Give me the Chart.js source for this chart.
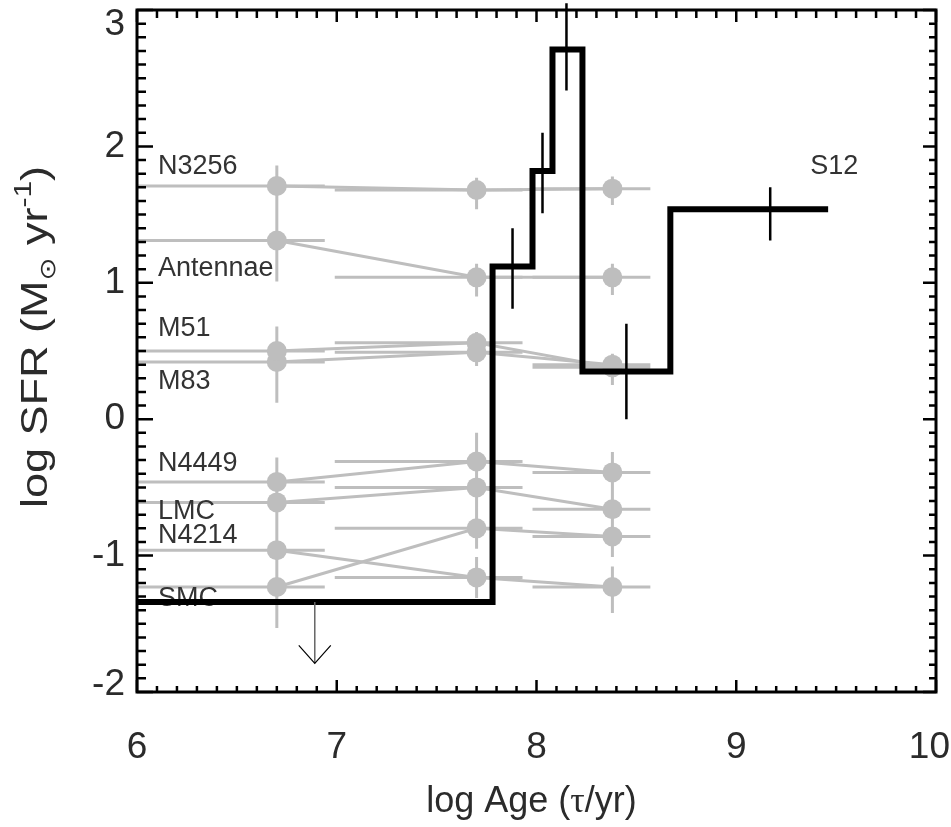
<!DOCTYPE html>
<html>
<head>
<meta charset="utf-8">
<script src="https://cdn.jsdelivr.net/npm/chart.js@4.4.0/dist/chart.umd.min.js"></script>
<style>
html,body{margin:0;padding:0;background:#fff;}
#wrap{width:951px;height:827px;position:relative;}
</style>
</head>
<body>
<div id="wrap"><canvas id="c"></canvas></div>
<script>
// ---------- DATA ----------
const ageBins  = [6.7, 7.7, 8.38];          // log age of the comparison points
const ageLow   = [6.0, 6.99, 7.98];         // horizontal error-bar extent (low)
const ageHigh  = [6.94, 7.93, 8.57];        // horizontal error-bar extent (high)

const galaxyNames = ['N3256','Antennae','M51','M83','N4449','LMC','N4214','SMC'];
const sfrN3256    = [1.71, 1.68, 1.69];
const sfrAntennae = [1.31, 1.04, 1.04];
const sfrM51      = [0.50, 0.56, 0.38];
const sfrM83      = [0.42, 0.49, 0.40];
const sfrN4449    = [-0.46, -0.31, -0.39];
const sfrLMC      = [-0.61, -0.50, -0.66];
const sfrN4214    = [-0.96, -1.16, -1.23];
const sfrSMC      = [-1.23, -0.80, -0.86];

const errUpN3256 = [0.15,0.09,0.09],  errDnN3256 = [0.30,0.14,0.12];
const errUpAnt   = [0.15,0.10,0.10],  errDnAnt   = [0.30,0.14,0.13];
const errUpM51   = [0.18,0.08,0.08],  errDnM51   = [0.30,0.10,0.12];
const errUpM83   = [0.18,0.08,0.08],  errDnM83   = [0.30,0.10,0.15];
const errUpN4449 = [0.18,0.21,0.15],  errDnN4449 = [0.30,0.15,0.15];
const errUpLMC   = [0.18,0.15,0.15],  errDnLMC   = [0.30,0.15,0.15];
const errUpN4214 = [0.18,0.15,0.15],  errDnN4214 = [0.30,0.15,0.19];
const errUpSMC   = [0.18,0.15,0.15],  errDnSMC   = [0.30,0.15,0.15];

// labels placed in data units (x, baseline y)
const labelX = 6.105;
const labelY = [1.80, 1.05, 0.61, 0.225, -0.38, -0.73, -0.91, -1.37];

// S12 star-formation history (step function)
const s12Edges  = [6.0, 7.78, 7.98, 8.08, 8.23, 8.67, 9.46];
const s12Levels = [-1.34, 1.12, 1.82, 2.71, 0.35, 1.54];
const s12ErrX   = [7.88, 8.03, 8.15, 8.45, 9.17];
const s12ErrY   = [1.12, 1.82, 2.71, 0.35, 1.54];
const s12ErrUp  = [0.28, 0.28, 0.34, 0.35, 0.16];
const s12ErrDn  = [0.31, 0.31, 0.30, 0.35, 0.23];
const s12LimitX = 6.89, s12LimitFrom = -1.34, s12LimitTo = -1.79;
const s12Label = 'S12', s12LabelX = 9.37, s12LabelY = 1.80;

const xTicks = [6, 7, 8, 9, 10];
const yTicks = [-2, -1, 0, 1, 2, 3];

// ---------- BUILD ----------
const GRAY = '#bebebe';
const TXT = '#2b2b2b';
const FONT = "'Liberation Sans', Arial, Helvetica, sans-serif";
const series = [sfrN3256, sfrAntennae, sfrM51, sfrM83, sfrN4449, sfrLMC, sfrN4214, sfrSMC];
const errUp = [errUpN3256, errUpAnt, errUpM51, errUpM83, errUpN4449, errUpLMC, errUpN4214, errUpSMC];
const errDn = [errDnN3256, errDnAnt, errDnM51, errDnM83, errDnN4449, errDnLMC, errDnN4214, errDnSMC];

const hErr = [], vErr = [];
series.forEach((s, i) => s.forEach((v, j) => {
  hErr.push({x: ageLow[j], y: v}, {x: ageHigh[j], y: v}, {x: ageHigh[j], y: null});
  vErr.push({x: ageBins[j], y: v + errUp[i][j]}, {x: ageBins[j], y: v - errDn[i][j]}, {x: ageBins[j], y: null});
}));

const stepData = s12Levels.map((l, i) => ({x: s12Edges[i], y: l}));
stepData.push({x: s12Edges[s12Edges.length - 1], y: s12Levels[s12Levels.length - 1]});

const bErr = [];
s12ErrX.forEach((x, i) => {
  bErr.push({x, y: s12ErrY[i] + s12ErrUp[i]}, {x, y: s12ErrY[i] - s12ErrDn[i]}, {x, y: null});
});

const datasets = [];
datasets.push({data: hErr, borderColor: GRAY, borderWidth: 3, pointRadius: 0, spanGaps: false, order: 20});
datasets.push({data: vErr, borderColor: GRAY, borderWidth: 3, pointRadius: 0, spanGaps: false, order: 19});
galaxyNames.forEach((name, i) => {
  datasets.push({label: name, data: ageBins.map((a, j) => ({x: a, y: series[i][j]})),
    borderColor: GRAY, backgroundColor: GRAY, borderWidth: 3,
    pointRadius: 10, pointHoverRadius: 10, pointBorderWidth: 0, pointBackgroundColor: GRAY, order: 10});
});
const STEP_INDEX = datasets.length;
datasets.push({label: 'S12', data: stepData, stepped: true, borderColor: '#000', borderWidth: 6,
  borderJoinStyle: 'miter', borderCapStyle: 'butt', pointRadius: 0, order: 3});
datasets.push({data: bErr, borderColor: '#000', borderWidth: 2.5, pointRadius: 0, spanGaps: false, clip: false, order: 2});
datasets.push({data: [{x: s12LimitX, y: s12LimitFrom}, {x: s12LimitX, y: s12LimitTo}],
  borderColor: '#666', borderWidth: 1.5, pointRadius: 0, order: 1});

// ---------- PLUGIN ----------
const decor = {
  id: 'decor',
  beforeDatasetDraw(chart, args) {
    if (args.index !== STEP_INDEX) return;
    const {ctx, scales: {x, y}} = chart;
    ctx.save();
    ctx.fillStyle = '#333';
    ctx.font = '27px ' + FONT;
    ctx.textBaseline = 'alphabetic';
    ctx.textAlign = 'left';
    galaxyNames.forEach((n, i) => ctx.fillText(n, x.getPixelForValue(labelX), y.getPixelForValue(labelY[i])));
    ctx.fillText(s12Label, x.getPixelForValue(s12LabelX), y.getPixelForValue(s12LabelY));
    ctx.restore();
  },
  afterDatasetsDraw(chart) {
    const {ctx, chartArea: a, scales: {x, y}} = chart;
    ctx.save();
    // arrow head of upper limit
    const tx = x.getPixelForValue(s12LimitX), ty = y.getPixelForValue(s12LimitTo);
    ctx.strokeStyle = '#000'; ctx.lineWidth = 1.2;
    ctx.beginPath(); ctx.moveTo(tx - 16, ty - 18); ctx.lineTo(tx, ty); ctx.lineTo(tx + 16, ty - 18); ctx.stroke();
    // frame
    ctx.lineWidth = 3; ctx.strokeStyle = '#000';
    ctx.strokeRect(a.left, a.top, a.right - a.left, a.bottom - a.top);
    // ticks
    ctx.lineWidth = 2.5; ctx.lineCap = 'butt';
    ctx.beginPath();
    const nx = Math.round((x.max - x.min) * 10);
    for (let k = 0; k <= nx; k++) {
      const px = x.getPixelForValue(x.min + k / 10);
      const major = k % 10 === 0;
      ctx.moveTo(px, a.bottom); ctx.lineTo(px, a.bottom - (major ? 12 : 6));
      ctx.moveTo(px, a.top); ctx.lineTo(px, a.top + (major ? 12 : 8));
    }
    const ny = Math.round((y.max - y.min) * 10);
    for (let k = 0; k <= ny; k++) {
      const py = y.getPixelForValue(y.min + k / 10);
      const major = k % 10 === 0;
      ctx.moveTo(a.left, py); ctx.lineTo(a.left + (major ? 16 : 9), py);
      ctx.moveTo(a.right, py); ctx.lineTo(a.right - (major ? 13 : 7), py);
    }
    ctx.stroke();
    ctx.restore();
  },
  afterDraw(chart) {
    const {ctx, chartArea: a, scales: {x, y}, width: W} = chart;
    ctx.save();
    ctx.fillStyle = TXT;
    // tick labels
    ctx.font = '37px ' + FONT;
    ctx.textBaseline = 'middle';
    ctx.textAlign = 'center';
    xTicks.forEach(v => {
      const t = String(v), w = ctx.measureText(t).width;
      const px = Math.min(Math.max(x.getPixelForValue(v), w / 2 + 1), W - w / 2 - 1);
      ctx.fillText(t, px, a.bottom + 56);
    });
    ctx.textAlign = 'right';
    yTicks.forEach(v => {
      const py = Math.min(Math.max(y.getPixelForValue(v), a.top + 15), a.bottom - 7);
      ctx.fillText(String(v), a.left - 12, py);
    });
    // x title: log Age (τ/yr)
    ctx.textBaseline = 'alphabetic'; ctx.textAlign = 'left';
    const big = '36px ' + FONT, serif = "36px 'Liberation Serif', 'Times New Roman', serif";
    const p1 = 'log Age (', p2 = '\u03c4', p3 = '/yr)';
    ctx.font = big; const w1 = ctx.measureText(p1).width, w3 = ctx.measureText(p3).width;
    ctx.font = serif; const w2 = ctx.measureText(p2).width;
    let xx = (a.left + a.right) / 2 - 5 - (w1 + w2 + w3) / 2;
    const by = 812;
    ctx.font = big; ctx.fillText(p1, xx, by); xx += w1;
    ctx.font = serif; ctx.fillText(p2, xx, by); xx += w2;
    ctx.font = big; ctx.fillText(p3, xx, by);
    // y title: log SFR (M⊙ yr^-1)
    const small = '24px ' + FONT, sun = "22px 'DejaVu Sans', sans-serif";
    const parts = [
      {t: 'log SFR (M', f: big, dy: 0},
      {t: '\u2299', f: sun, dy: 8},
      {t: ' yr', f: big, dy: 0},
      {t: '-1', f: small, dy: -16},
      {t: ')', f: big, dy: 0}
    ];
    let total = 0;
    parts.forEach(p => { ctx.font = p.f; p.w = ctx.measureText(p.t).width; total += p.w; });
    const stretch = 1.25;
    ctx.translate(47, (a.top + a.bottom) / 2 - 14);
    ctx.rotate(-Math.PI / 2);
    ctx.scale(stretch, 1);
    let cx = -total / 2;
    parts.forEach(p => { ctx.font = p.f; ctx.fillText(p.t, cx, p.dy); cx += p.w; });
    ctx.restore();
  }
};

new Chart(document.getElementById('c'), {
  type: 'line',
  data: {datasets},
  options: {
    responsive: true,
    maintainAspectRatio: false,
    animation: false,
    events: [],
    layout: {padding: {top: 7, right: 15, left: 0, bottom: 0}},
    plugins: {legend: {display: false}, tooltip: {enabled: false}},
    scales: {
      x: {
        type: 'linear', min: 6, max: 10,
        afterBuildTicks: s => { s.ticks = xTicks.map(v => ({value: v})); },
        afterFit: s => { s.height = 135; s.paddingLeft = 0; s.paddingRight = 0; },
        grid: {display: false, drawTicks: false},
        border: {display: false},
        ticks: {display: false}
      },
      y: {
        type: 'linear', min: -2, max: 3,
        afterBuildTicks: s => { s.ticks = yTicks.map(v => ({value: v})); },
        afterFit: s => { s.width = 137; s.paddingTop = 0; s.paddingBottom = 0; },
        grid: {display: false, drawTicks: false},
        border: {display: false},
        ticks: {display: false}
      }
    }
  },
  plugins: [decor]
});
</script>
</body>
</html>
